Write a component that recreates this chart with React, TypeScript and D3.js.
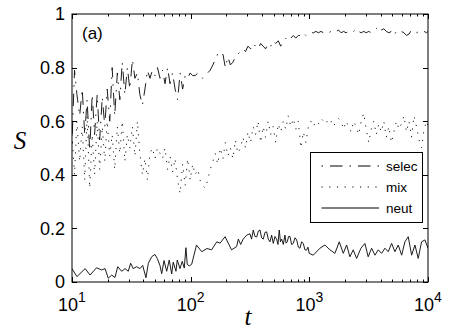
import * as d3 from 'd3';
import { useEffect, useRef } from 'react';

const W = 450;
const H = 329;

// sample times shared by the selec and mix runs
const tGrid = [
  10, 10.5, 11, 11.6, 12.2, 12.8, 13.4, 14.1, 14.8, 15.5, 16.3, 17.1, 18, 18.9, 19.8, 20.8, 21.8, 22.9, 24.1, 25.3,
  26.5, 27.9, 29.3, 30.7, 32.3, 33.9, 35.6, 37.3, 39.2, 41.2, 43.2, 45.4, 47.6, 50, 52.5, 55.2, 57.9, 60.8, 63.9, 67,
  70.4, 73.9, 77.6, 81.5, 85.6, 89.9, 94.3, 99, 104, 109, 115, 120, 126, 133, 139, 146, 154, 161, 169, 178,
  187, 196, 206, 216, 227, 238, 250, 263, 276, 290, 304, 320, 336, 352, 370, 389, 408, 428, 450, 472,
  496, 521, 547, 574, 603, 633, 664, 698, 733, 769, 808, 848, 890, 935, 982, 1031, 1082, 1136, 1193, 1253,
  1316, 1381, 1450, 1523, 1599, 1679, 1763, 1851, 1944, 2041, 2143, 2250, 2363, 2481, 2605, 2735, 2872, 3016, 3166, 3325,
  3491, 3666, 3849, 4041, 4243, 4456, 4678, 4912, 5158, 5416, 5686, 5971, 6269, 6583, 6912, 7258, 7621, 8002, 8402, 8822,
  9263, 9726, 10000,
];

const selec = [
  0.52, 0.79, 0.7, 0.62, 0.72, 0.55, 0.68, 0.49, 0.7, 0.55, 0.7, 0.53, 0.69, 0.58, 0.72, 0.6, 0.8, 0.62, 0.78, 0.68,
  0.82, 0.7, 0.8, 0.72, 0.83, 0.76, 0.78, 0.7, 0.66, 0.72, 0.79, 0.76, 0.79, 0.77, 0.8, 0.76, 0.79, 0.74, 0.8, 0.74,
  0.78, 0.72, 0.68, 0.78, 0.72, 0.77, 0.76, 0.78, 0.77, 0.77, 0.78, 0.77, 0.76, 0.77, 0.78, 0.79, 0.81, 0.83, 0.85, 0.84,
  0.85, 0.8, 0.84, 0.81, 0.82, 0.84, 0.85, 0.86, 0.87, 0.86, 0.88, 0.87, 0.89, 0.88, 0.87, 0.89, 0.88, 0.87, 0.89, 0.88,
  0.9, 0.89, 0.9, 0.88, 0.9, 0.91, 0.9, 0.91, 0.92, 0.91, 0.92, 0.92, 0.93, 0.92, 0.93, 0.93, 0.93, 0.935, 0.93, 0.935,
  0.93, 0.935, 0.93, 0.935, 0.94, 0.935, 0.94, 0.93, 0.935, 0.93, 0.935, 0.94, 0.935, 0.945, 0.935, 0.93, 0.935, 0.93, 0.935, 0.93,
  0.935, 0.945, 0.955, 0.94, 0.945, 0.935, 0.93, 0.935, 0.92, 0.935, 0.93, 0.935, 0.93, 0.92, 0.925, 0.94, 0.935, 0.93, 0.935, 0.93,
  0.935, 0.93, 0.935,
];

const mix = [
  0.55, 0.4, 0.6, 0.45, 0.58, 0.38, 0.62, 0.35, 0.55, 0.4, 0.6, 0.42, 0.58, 0.45, 0.6, 0.47, 0.55, 0.42, 0.58, 0.48,
  0.6, 0.45, 0.55, 0.5, 0.58, 0.47, 0.6, 0.48, 0.4, 0.46, 0.38, 0.48, 0.5, 0.46, 0.5, 0.48, 0.46, 0.5, 0.42, 0.47,
  0.41, 0.46, 0.38, 0.33, 0.44, 0.36, 0.46, 0.38, 0.44, 0.4, 0.42, 0.38, 0.36, 0.35, 0.38, 0.42, 0.45, 0.48, 0.44, 0.5,
  0.46, 0.52, 0.47, 0.5, 0.46, 0.53, 0.48, 0.5, 0.54, 0.5, 0.56, 0.52, 0.58, 0.55, 0.6, 0.52, 0.58, 0.54, 0.6, 0.55,
  0.58, 0.52, 0.59, 0.56, 0.6, 0.57, 0.62, 0.58, 0.61, 0.57, 0.6, 0.5, 0.56, 0.52, 0.58, 0.6, 0.58, 0.6, 0.59, 0.61,
  0.6, 0.59, 0.61, 0.6, 0.58, 0.6, 0.61, 0.6, 0.57, 0.6, 0.58, 0.56, 0.6, 0.58, 0.55, 0.6, 0.63, 0.57, 0.52, 0.57,
  0.6, 0.55, 0.59, 0.56, 0.6, 0.54, 0.58, 0.52, 0.56, 0.6, 0.57, 0.59, 0.62, 0.56, 0.6, 0.54, 0.62, 0.58, 0.53, 0.5,
  0.57, 0.6, 0.58,
];

const tNeut = [
  10, 11, 12.9, 14.2, 16.1, 17.8, 19, 20.2, 21.6, 23, 24.3, 26.2, 28, 29.8, 31.2, 32.8, 35.1, 37.4, 39.4, 42,
  44, 46.9, 50, 52.3, 55.1, 57, 59.6, 62.8, 66, 69.2, 71.3, 75.2, 77.1, 81.3, 84.9, 88.3, 91.2, 93.6, 97.3, 102,
  112, 124, 137, 150, 166, 177, 195, 221, 244, 252, 264, 277, 297,
  316, 326, 337, 348, 360, 372, 384, 396, 409, 423, 437, 451, 466, 481, 497, 513, 530, 544, 558, 571,
  585, 604, 623, 637, 652, 669, 687, 709, 732, 757, 782, 808, 834, 861, 889, 918, 948, 973, 998,
  1079, 1228, 1353, 1492, 1643, 1787, 1932,
  2063, 2198, 2344, 2502, 2722, 2940, 3133, 3350, 3573, 3804, 4063, 4334, 4623, 4936, 5263, 5614, 5998, 6389, 6814, 7278,
  7763, 8269, 8831, 9416, 10000,
];

const neut = [
  0.05, 0.02, 0.05, 0.026, 0.053, 0.045, 0.05, 0.014, 0.026, 0.017, 0.057, 0.04, 0.05, 0.04, 0.07, 0.05, 0.057, 0.05, 0.062, 0.016,
  0.07, 0.094, 0.103, 0.088, 0.062, 0.031, 0.08, 0.04, 0.082, 0.03, 0.074, 0.04, 0.082, 0.05, 0.077, 0.052, 0.128, 0.066, 0.06, 0.066,
  0.138, 0.113, 0.125, 0.12, 0.15, 0.145, 0.169, 0.12, 0.132, 0.16, 0.14, 0.16, 0.175,
  0.18, 0.16, 0.194, 0.17, 0.168, 0.19, 0.194, 0.165, 0.16, 0.185, 0.187, 0.16, 0.15, 0.175, 0.144, 0.17, 0.16, 0.14, 0.194, 0.15,
  0.16, 0.14, 0.175, 0.145, 0.15, 0.17, 0.17, 0.14, 0.144, 0.165, 0.157, 0.13, 0.126, 0.15, 0.144, 0.12, 0.119, 0.13, 0.107,
  0.1, 0.126, 0.138, 0.12, 0.107, 0.15, 0.107,
  0.138, 0.094, 0.12, 0.088, 0.126, 0.144, 0.094, 0.126, 0.1, 0.12, 0.107, 0.126, 0.113, 0.144, 0.113, 0.138, 0.1, 0.15, 0.169, 0.1,
  0.138, 0.088, 0.15, 0.157, 0.126,
];

const yTicks = [0, 0.2, 0.4, 0.6, 0.8, 1];
const yTickLabels = ['0', '0.2', '0.4', '0.6', '0.8', '1'];
const xMajor = [10, 100, 1000, 10000];
const xExponents = ['1', '2', '3', '4'];
const seriesNames = ['selec', 'mix', 'neut'];

const dashes: Record<string, string | null> = {
  selec: '1.5,7,12.5,7',
  mix: '1.2,6.5',
  neut: null,
};

export default function App() {
  const ref = useRef<SVGSVGElement>(null);

  useEffect(() => {
    const svg = d3.select(ref.current);
    svg.selectAll('*').remove();

    const margin = { top: 14, right: 22, bottom: 47, left: 72 };
    const iw = W - margin.left - margin.right;
    const ih = H - margin.top - margin.bottom;
    const sans = '"Liberation Sans", Arial, Helvetica, sans-serif';
    const serif = '"Liberation Serif", "Times New Roman", serif';

    const x = d3.scaleLog().domain([10, 10000]).range([0, iw]);
    const y = d3.scaleLinear().domain([0, 1]).range([ih, 0]);

    svg.append('rect').attr('width', W).attr('height', H).attr('fill', '#fff');

    const g = svg.append('g').attr('transform', `translate(${margin.left},${margin.top})`);

    g.append('defs').append('clipPath').attr('id', 'plotclip')
      .append('rect').attr('width', iw).attr('height', ih);

    const line = d3.line<[number, number]>()
      .x(d => x(d[0]))
      .y(d => y(d[1]));

    const runs: Record<string, [number, number][]> = {
      selec: tGrid.map((t, i) => [t, selec[i]] as [number, number]).filter(d => d[1] != null),
      mix: tGrid.map((t, i) => [t, mix[i]] as [number, number]).filter(d => d[1] != null),
      neut: tNeut.map((t, i) => [t, neut[i]] as [number, number]).filter(d => d[1] != null),
    };

    const plot = g.append('g').attr('clip-path', 'url(#plotclip)');
    seriesNames.forEach(name => {
      const p = plot.append('path')
        .datum(runs[name])
        .attr('d', line)
        .attr('fill', 'none')
        .attr('stroke', '#111')
        .attr('stroke-width', 0.95)
        .attr('stroke-linejoin', 'round');
      if (dashes[name]) p.attr('stroke-dasharray', dashes[name]);
    });

    // frame
    g.append('rect')
      .attr('width', iw).attr('height', ih)
      .attr('fill', 'none').attr('stroke', '#000').attr('stroke-width', 1);

    // x ticks, log minor ticks included, top and bottom, inward
    const allX = x.ticks();
    allX.forEach(t => {
      const major = xMajor.includes(t);
      const len = major ? 5 : 2.5;
      const xx = Math.round(x(t)) + 0.5;
      g.append('line').attr('x1', xx).attr('x2', xx).attr('y1', ih).attr('y2', ih - len)
        .attr('stroke', '#000').attr('stroke-width', 1);
      g.append('line').attr('x1', xx).attr('x2', xx).attr('y1', 0).attr('y2', len)
        .attr('stroke', '#000').attr('stroke-width', 1);
    });

    xMajor.forEach((t, i) => {
      const txt = g.append('text')
        .attr('x', x(t))
        .attr('y', ih + 29)
        .attr('text-anchor', 'middle')
        .attr('font-family', sans)
        .attr('font-size', 18)
        .attr('fill', '#000');
      txt.append('tspan').text('10');
      txt.append('tspan').attr('dy', -9).attr('font-size', 14).text(xExponents[i]);
    });

    // y ticks both sides
    yTicks.forEach((v, i) => {
      const yy = Math.round(y(v)) + 0.5;
      g.append('line').attr('x1', 0).attr('x2', 5).attr('y1', yy).attr('y2', yy)
        .attr('stroke', '#000').attr('stroke-width', 1);
      g.append('line').attr('x1', iw).attr('x2', iw - 5).attr('y1', yy).attr('y2', yy)
        .attr('stroke', '#000').attr('stroke-width', 1);
      g.append('text')
        .attr('x', -7)
        .attr('y', y(v))
        .attr('dy', '0.36em')
        .attr('text-anchor', 'end')
        .attr('font-family', sans)
        .attr('font-size', 18)
        .attr('fill', '#000')
        .text(yTickLabels[i]);
    });

    // axis titles
    svg.append('text')
      .attr('x', 20).attr('y', 149)
      .attr('text-anchor', 'middle')
      .attr('font-family', serif)
      .attr('font-style', 'italic')
      .attr('font-size', 25)
      .text('S');
    svg.append('text')
      .attr('x', 248).attr('y', 325)
      .attr('text-anchor', 'middle')
      .attr('font-family', serif)
      .attr('font-style', 'italic')
      .attr('font-size', 25)
      .text('t');

    // panel tag
    g.append('text')
      .attr('x', 10).attr('y', 25)
      .attr('font-family', sans)
      .attr('font-size', 17)
      .text('(a)');

    // legend
    const lg = svg.append('g').attr('transform', 'translate(310,152)');
    lg.append('rect')
      .attr('x', 0.5).attr('y', 0.5)
      .attr('width', 112).attr('height', 70)
      .attr('fill', '#fff').attr('stroke', '#000').attr('stroke-width', 1);
    seriesNames.forEach((name, i) => {
      const ly = 14 + i * 21;
      const l = lg.append('line')
        .attr('x1', 11.5).attr('x2', 69)
        .attr('y1', ly).attr('y2', ly)
        .attr('stroke', '#000').attr('stroke-width', 1);
      if (dashes[name]) l.attr('stroke-dasharray', dashes[name]);
      lg.append('text')
        .attr('x', 76).attr('y', ly + 5.3)
        .attr('font-family', sans)
        .attr('font-size', 13.5)
        .text(name);
    });

    return () => {
      svg.selectAll('*').remove();
    };
  }, []);

  return (
    <svg
      ref={ref}
      width={W}
      height={H}
      style={{ position: 'absolute', left: 0, top: 0, display: 'block' }}
    />
  );
}
